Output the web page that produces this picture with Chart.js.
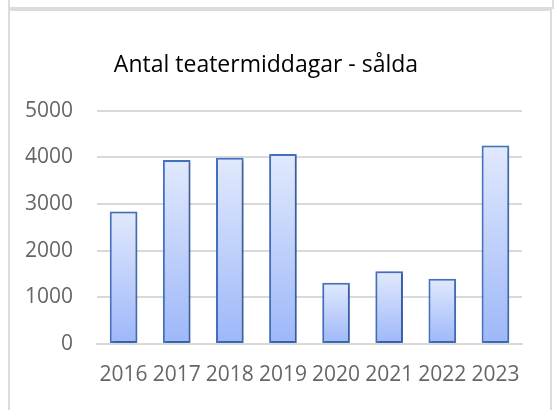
<!DOCTYPE html>
<html>
<head>
<meta charset="utf-8">
<script src="https://cdn.jsdelivr.net/npm/chart.js@4/dist/chart.umd.min.js"></script>
<style>
  html, body { margin: 0; padding: 0; background: #fff; }
  body { width: 557px; height: 410px; position: relative; overflow: hidden; }
  #box1 { position: absolute; left: 8px; top: -20px; width: 542px; height: 25px; border: 2px solid #dcdcdc; }
  #box2 { position: absolute; left: 8px; top: 9px; width: 540px; height: 420px; border: 2px solid #dcdcdc; }
  #wrap { position: absolute; left: 0; top: 0; width: 557px; height: 410px; }
</style>
</head>
<body>
<div id="box1"></div>
<div id="box2"></div>
<div id="wrap"><canvas id="c" width="557" height="410"></canvas></div>
<script>
const categories = ['2016', '2017', '2018', '2019', '2020', '2021', '2022', '2023'];
const sold = [2840, 3940, 3990, 4070, 1310, 1560, 1400, 4250];
const titleText = 'Antal teatermiddagar - sålda';
const yTicks = [0, 1000, 2000, 3000, 4000, 5000];

function barGradient(context) {
  const chart = context.chart;
  const y = chart.scales.y;
  if (!y || context.dataIndex === undefined) return '#b8cbfa';
  const v = context.dataset.data[context.dataIndex];
  const top = y.getPixelForValue(v);
  const bottom = y.getPixelForValue(0);
  if (!isFinite(top) || !isFinite(bottom) || top === bottom) return '#b8cbfa';
  const g = chart.ctx.createLinearGradient(0, top, 0, bottom);
  g.addColorStop(0, '#e1e9fd');
  g.addColorStop(1, '#9db7f9');
  return g;
}

const shadowPlugin = {
  id: 'barShadow',
  beforeDatasetsDraw(chart) {
    const ctx = chart.ctx;
    ctx.save();
    ctx.shadowColor = 'rgba(0,0,0,0.28)';
    ctx.shadowBlur = 3;
    ctx.shadowOffsetX = 1;
    ctx.shadowOffsetY = 1;
  },
  afterDatasetsDraw(chart) {
    chart.ctx.restore();
  }
};

new Chart(document.getElementById('c'), {
  type: 'bar',
  data: {
    labels: categories,
    datasets: [{
      label: titleText,
      data: sold,
      backgroundColor: barGradient,
      borderColor: '#4472c4',
      borderWidth: 2,
      borderSkipped: false,
      categoryPercentage: 1.0,
      barPercentage: 0.52
    }]
  },
  options: {
    responsive: false,
    animation: false,
    layout: { padding: { left: 10, right: 35, top: 0, bottom: 0 } },
    plugins: {
      legend: { display: false },
      tooltip: { enabled: false },
      title: {
        display: true,
        text: titleText,
        color: '#000000',
        font: { family: 'Open Sans', size: 23, weight: 'normal', lineHeight: 1.2 },
        padding: { top: 52, bottom: 31 }
      }
    },
    scales: {
      x: {
        grid: { display: false, drawTicks: false },
        border: { display: true, color: '#d9d9d9', width: 2 },
        ticks: {
          color: '#666666',
          font: { family: 'Open Sans', size: 21 },
          padding: 18,
          maxRotation: 0,
          autoSkip: false
        },
        afterFit(scale) { scale.height = 66; }
      },
      y: {
        min: 0,
        max: 5000,
        afterBuildTicks(scale) { scale.ticks = yTicks.map(v => ({ value: v })); },
        grid: { color: '#d9d9d9', lineWidth: 2, drawTicks: false },
        border: { display: false },
        ticks: {
          color: '#666666',
          font: { family: 'Open Sans', size: 21 },
          padding: 24,
          callback: (v) => String(v)
        },
        afterFit(scale) { scale.width = 87; }
      }
    }
  },
  plugins: [shadowPlugin]
});
</script>
</body>
</html>
